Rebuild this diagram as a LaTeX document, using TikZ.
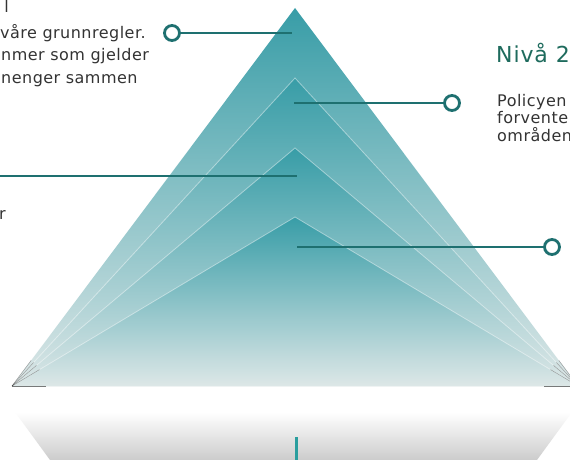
\documentclass[tikz,border=0pt]{standalone}
\usepackage{fontspec}
\setmainfont{DejaVu Sans}
\newfontfamily\bodyfont[LetterSpace=3]{DejaVu Sans}
\newfontfamily\headfont[LetterSpace=4]{DejaVu Sans}
\usetikzlibrary{calc}
\definecolor{tealtop}{HTML}{389DA7}
\definecolor{tealbot}{HTML}{DDE7E7}
\definecolor{connc}{HTML}{1E7070}
\definecolor{txtc}{HTML}{333333}
\definecolor{headc}{HTML}{1E6B5D}
\definecolor{stemc}{HTML}{2A9E9E}
\begin{document}
\begin{tikzpicture}[x=1pt,y=-1pt,
  conn/.style={connc, line width=2.8pt},
  dot/.style={circle, draw=connc, fill=white, line width=2.8pt, minimum size=15pt, inner sep=0pt},
  bodytxt/.style={txtc, font=\bodyfont\fontsize{16}{18}\selectfont, inner sep=0pt},
  headtxt/.style={headc, font=\headfont\fontsize{22}{25}\selectfont, inner sep=0pt},
  layer/.style={top color=tealtop, bottom color=tealbot},
  rim/.style={white, opacity=0.45, line width=0.8pt},
  fan/.style={black, opacity=0.35, line width=0.5pt},
]
\useasboundingbox (0,0) rectangle (570,460);
\clip (0,0) rectangle (570,460);
\fill[white] (0,0) rectangle (570,460);
% reflection base
\shade[top color=white, middle color=black!7, bottom color=black!20] (15,412) -- (572,412) -- (537,460) -- (50,460) -- cycle;
% pyramid layers
\coordinate (L) at (12,386);
\coordinate (R) at (578,386);
\foreach \ay in {8,78,148,217} {
  \shade[layer] (L) -- (295,\ay) -- (R) -- cycle;
}
\foreach \ay in {78,148,217} {
  \draw[rim] (L) -- (295,\ay) -- (R);
}
\foreach \ay in {8,78,148,217} {
  \draw[fan] (L) -- ($(L)!32pt!(295,\ay)$);
  \draw[fan] (R) -- ($(R)!32pt!(295,\ay)$);
}
\draw[black, opacity=0.5, line width=1pt] (L) -- ++(34,0);
\draw[black, opacity=0.5, line width=1pt] (R) -- ++(-34,0);
% stem
\coordinate (s1) at (296,437);
\coordinate (s2) at (296,462);
\draw[stemc, line width=3pt] (s1) -- (s2);
% connectors
\node[dot] (c1) at (172,33) {};
\coordinate (p1) at (292,33);
\draw[conn] (c1) -- (p1);
\node[dot] (c2) at (452,103) {};
\coordinate (p2) at (294,103);
\draw[conn] (p2) -- (c2);
\coordinate (c3) at (-5,176);
\coordinate (p3) at (297,176);
\draw[conn] (c3) -- (p3);
\node[dot] (c4) at (552,247) {};
\coordinate (p4) at (297,247);
\draw[conn] (p4) -- (c4);
% left texts
\node[bodytxt, anchor=base east] (t0) at (9,13) {l};
\node[bodytxt, anchor=base west] (t1) at (0,38) {våre grunnregler.};
\node[bodytxt, anchor=base west] (t2) at (1,60) {nmer som gjelder};
\node[bodytxt, anchor=base west] (t3) at (1,83) {nenger sammen};
\node[bodytxt, anchor=base east] (t4) at (6,219) {r};
% right texts
\node[headtxt, anchor=base west] (h2) at (496,63) {Nivå 2};
\node[bodytxt, anchor=base west] (r1) at (497,106) {Policyen};
\node[bodytxt, anchor=base west] (r2) at (497,123.5) {forvente};
\node[bodytxt, anchor=base west] (r3) at (497,141) {områden};
\end{tikzpicture}
\end{document}
